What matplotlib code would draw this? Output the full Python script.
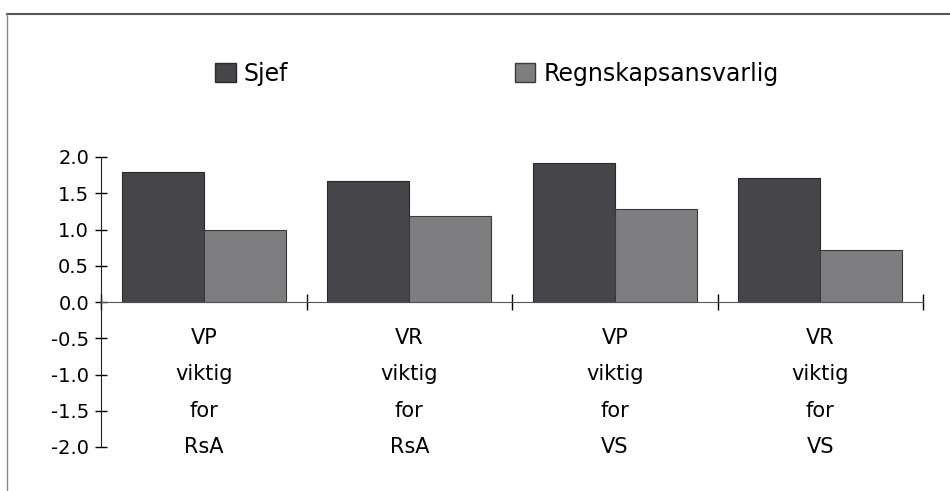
import matplotlib

matplotlib.use("Agg")
import matplotlib.pyplot as plt
import numpy as np
from matplotlib.lines import Line2D
from matplotlib.patches import Patch

# data
categories = ["VP\nviktig\nfor\nRsA", "VR\nviktig\nfor\nRsA", "VP\nviktig\nfor\nVS", "VR\nviktig\nfor\nVS"]
series_names = ["Sjef", "Regnskapsansvarlig"]
sjef = [1.79, 1.67, 1.92, 1.71]
regnskap = [0.99, 1.18, 1.28, 0.72]
yticks = [2.0, 1.5, 1.0, 0.5, 0.0, -0.5, -1.0, -1.5, -2.0]

plt.rcParams["font.family"] = ["DejaVu Sans"]

fig = plt.figure(figsize=(9.5, 4.91), dpi=100)
ax = fig.add_axes([101 / 950, 44 / 491, 822 / 950, 290 / 491])

x = np.arange(1, len(categories) + 1)
w = 0.4
ax.bar(x - w / 2, sjef, width=w, color="#46464a", edgecolor="#2a2a2a", linewidth=0.8)
ax.bar(x + w / 2, regnskap, width=w, color="#7e7e80", edgecolor="#3a3a3a", linewidth=0.8)

ax.set_xlim(0.5, len(categories) + 0.5)
ax.set_ylim(-2.0, 2.0)
ax.set_yticks(yticks)
ax.set_yticklabels([f"{v:.1f}" for v in yticks], fontsize=14)
ax.set_xticks(np.arange(0.5, len(categories) + 1))
ax.set_xticklabels([])

for s in ("top", "right"):
    ax.spines[s].set_visible(False)
ax.spines["bottom"].set_position(("data", 0))
ax.spines["bottom"].set_color("#555555")
ax.spines["left"].set_color("#222222")
ax.tick_params(axis="y", direction="inout", length=9, width=1, pad=4)
ax.tick_params(axis="x", direction="inout", length=12, width=1)

# category labels, one line per tick row below zero
for xi, lab in zip(x, categories):
    for k, line in enumerate(lab.split("\n")):
        ax.text(xi, -0.5 * (k + 1), line, ha="center", va="center", fontsize=15)

handles = [
    Patch(facecolor="#46464a", edgecolor="#2a2a2a"),
    Patch(facecolor="#7e7e80", edgecolor="#3a3a3a"),
]
fig.legend(handles, series_names, loc="center left", bbox_to_anchor=(206 / 950, 1 - 74 / 491),
           ncol=2, frameon=False, fontsize=17, handlelength=0.85, handleheight=0.85,
           handletextpad=0.35, columnspacing=9.6, borderaxespad=0)

# scanned frame border
fig.add_artist(Line2D([7 / 950, 1], [1 - 14 / 491] * 2, color="#555555", lw=1.5))
fig.add_artist(Line2D([7 / 950] * 2, [0, 1 - 14 / 491], color="#888888", lw=1.0))

fig.savefig("out.png", dpi=100)
